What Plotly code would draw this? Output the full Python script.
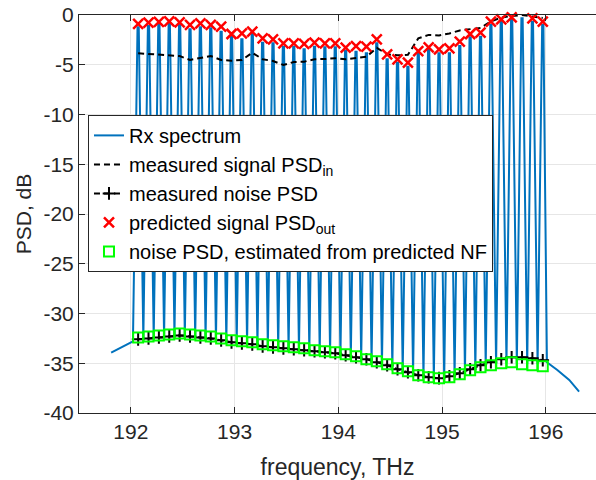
import plotly.graph_objects as go

# ---------------- data ----------------
channel_freq = [192.07, 192.17, 192.27, 192.37, 192.47, 192.57, 192.67, 192.77, 192.87, 192.97,
                193.07, 193.17, 193.27, 193.37, 193.47, 193.57, 193.67, 193.77, 193.87, 193.97,
                194.07, 194.17, 194.27, 194.37, 194.47, 194.57, 194.67, 194.77, 194.87, 194.97,
                195.07, 195.17, 195.27, 195.37, 195.47, 195.57, 195.67, 195.77, 195.87, 195.97]

# Rx spectrum: peak level of each channel
rx_peak = [-1.24, -1.11, -0.90, -0.77, -1.00, -1.44, -1.24, -1.34, -1.68, -2.11,
           -2.44, -1.91, -2.78, -2.85, -3.19, -3.19, -3.45, -3.19, -3.25, -3.25,
           -3.59, -3.69, -3.85, -2.85, -4.45, -4.79, -5.19, -3.85, -3.52, -3.85,
           -3.85, -3.12, -2.24, -2.18, -1.00, -0.67, -0.50, -0.33, -0.67, -1.00]

# Rx spectrum: inter-channel minima (41 values, before/between/after channels)
rx_dip_freq = [192.02, 192.12, 192.22, 192.32, 192.42, 192.52, 192.62, 192.72, 192.82, 192.92,
               193.02, 193.12, 193.22, 193.32, 193.42, 193.52, 193.62, 193.72, 193.82, 193.92,
               194.02, 194.12, 194.22, 194.32, 194.42, 194.52, 194.62, 194.72, 194.82, 194.92,
               195.02, 195.12, 195.22, 195.32, 195.42, 195.52, 195.62, 195.72, 195.82, 195.92,
               196.01]
rx_dip = [-32.8, -32.5, -32.4, -32.3, -32.2, -32.2, -32.3, -32.4, -32.6, -32.8,
          -32.9, -33.0, -33.2, -33.3, -33.4, -33.5, -33.6, -33.7, -33.8, -33.9,
          -34.1, -34.3, -34.5, -34.8, -35.1, -35.4, -35.8, -36.1, -36.4, -36.5,
          -36.5, -36.3, -35.9, -35.6, -35.3, -35.1, -35.0, -35.0, -35.1, -35.1,
          -34.9]

# Rx spectrum: ASE tails outside the channel band
left_tail_freq = [191.81, 191.92]
left_tail_psd = [-33.94, -33.35]
right_tail_freq = [196.11, 196.225, 196.32]
right_tail_psd = [-35.68, -36.68, -37.86]

measured_signal_in = [-3.85, -3.92, -4.02, -4.09, -4.12, -4.52, -4.35, -4.12, -4.52, -4.59,
                      -4.52, -3.79, -4.45, -4.62, -5.03, -4.72, -4.69, -4.45, -4.42, -4.35,
                      -4.45, -4.35, -4.20, -3.30, -3.95, -4.05, -4.00, -2.35, -2.00, -2.05,
                      -1.85, -1.55, -1.45, -1.30, -0.65, -0.25, -0.10, 0.00, -0.15, -0.30]

measured_noise = [-32.6, -32.5, -32.4, -32.3, -32.2, -32.3, -32.4, -32.5, -32.7, -32.9,
                  -33.0, -33.1, -33.3, -33.4, -33.5, -33.6, -33.7, -33.8, -33.9, -34.0,
                  -34.2, -34.4, -34.6, -34.9, -35.2, -35.6, -35.9, -36.2, -36.4, -36.5,
                  -36.3, -36.0, -35.6, -35.2, -34.9, -34.6, -34.4, -34.4, -34.5, -34.7]

predicted_signal_out = [-0.90, -0.77, -0.70, -0.63, -0.73, -1.00, -0.83, -1.00, -1.18, -1.91,
                        -1.84, -1.68, -2.34, -2.44, -2.84, -2.84, -2.91, -2.78, -2.84, -2.84,
                        -3.29, -3.12, -3.19, -2.44, -3.95, -4.45, -4.79, -3.62, -3.25, -3.45,
                        -3.35, -2.68, -1.91, -1.78, -0.67, -0.43, -0.23, 0.05, -0.33, -0.67]

noise_from_nf = [-32.4, -32.3, -32.2, -32.1, -32.0, -32.1, -32.2, -32.3, -32.5, -32.7,
                 -32.8, -32.9, -33.1, -33.2, -33.3, -33.4, -33.5, -33.7, -33.8, -33.9,
                 -34.1, -34.3, -34.6, -34.8, -35.1, -35.5, -35.8, -36.2, -36.4, -36.5,
                 -36.4, -36.1, -35.7, -35.4, -35.2, -35.0, -34.9, -35.1, -35.2, -35.3]

x_tick_vals = [192, 193, 194, 195, 196]
x_tick_text = ['192', '193', '194', '195', '196']
y_tick_vals = [-40, -35, -30, -25, -20, -15, -10, -5, 0]
y_tick_text = ['-40', '-35', '-30', '-25', '-20', '-15', '-10', '-5', '0']

# ---------------- build the Rx spectrum polyline ----------------
HALF_TOP = 0.006
spec_x = list(left_tail_freq)
spec_y = list(left_tail_psd)
for k, f in enumerate(channel_freq):
    spec_x += [rx_dip_freq[k], f - HALF_TOP, f + HALF_TOP]
    spec_y += [rx_dip[k], rx_peak[k], rx_peak[k]]
spec_x.append(rx_dip_freq[-1])
spec_y.append(rx_dip[-1])
spec_x += right_tail_freq
spec_y += right_tail_psd

INK = '#262626'
fig = go.Figure()
fig.add_trace(go.Scatter(x=spec_x, y=spec_y, mode='lines', name='Rx spectrum',
                         line=dict(color='#0072BD', width=2)))
fig.add_trace(go.Scatter(x=channel_freq, y=measured_signal_in, mode='lines',
                         name='measured signal PSD<sub>in</sub>',
                         line=dict(color='black', width=2, dash='6px,4px')))
fig.add_trace(go.Scatter(x=channel_freq, y=measured_noise, mode='lines+markers',
                         name='measured noise PSD',
                         line=dict(color='black', width=2, dash='6px,4px'),
                         marker=dict(symbol='cross-thin', size=9, color='black',
                                     line=dict(color='black', width=2))))
fig.add_trace(go.Scatter(x=channel_freq, y=predicted_signal_out, mode='markers',
                         name='predicted signal PSD<sub>out</sub>', cliponaxis=False,
                         marker=dict(symbol='x-thin', size=10, color='red',
                                     line=dict(color='red', width=2.5))))
fig.add_trace(go.Scatter(x=channel_freq, y=noise_from_nf, mode='markers',
                         name='noise PSD, estimated from predicted NF', cliponaxis=False,
                         marker=dict(symbol='square-open', size=10, color='#00FF00',
                                     line=dict(color='#00FF00', width=2))))

fig.update_layout(
    width=596, height=480,
    margin=dict(l=79, r=0, t=15, b=67),
    plot_bgcolor='white', paper_bgcolor='white',
    font=dict(family='Liberation Sans, Arial, sans-serif', size=21, color=INK),
    showlegend=True,
    legend=dict(x=0.0174, y=0.749, xanchor='left', yanchor='top',
                bgcolor='white', bordercolor=INK, borderwidth=1,
                font=dict(size=20, color='black'), itemwidth=30,
                tracegroupgap=0),
)
fig.update_xaxes(range=[191.5, 196.483], tickvals=x_tick_vals, ticktext=x_tick_text,
                 ticks='inside', ticklen=6, tickcolor=INK, showline=True, linecolor=INK,
                 linewidth=1, mirror='ticks', showgrid=True, gridcolor='#e6e6e6',
                 zeroline=False, tickfont=dict(size=21),
                 title=dict(text='frequency, THz', font=dict(size=23), standoff=16))
fig.update_yaxes(range=[-40, 0], tickvals=y_tick_vals, ticktext=y_tick_text,
                 ticks='inside', ticklen=6, tickcolor=INK, showline=True, linecolor=INK,
                 linewidth=1, showgrid=True, gridcolor='#e6e6e6', zeroline=False,
                 tickfont=dict(size=21),
                 title=dict(text='PSD, dB', font=dict(size=21), standoff=6))

fig.write_html('out.html')
